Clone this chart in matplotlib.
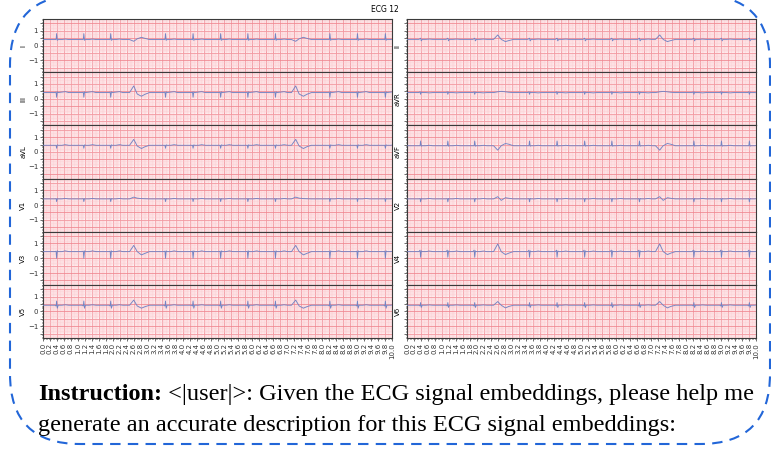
import numpy as np
import matplotlib
matplotlib.use("Agg")
import matplotlib.pyplot as plt
from matplotlib.patches import FancyBboxPatch
from matplotlib.ticker import MultipleLocator, FuncFormatter

# ---------------- data ----------------
title = "ECG 12"
leads_left = ["I", "III", "aVL", "V1", "V3", "V5"]
leads_right = ["II", "aVR", "aVF", "V2", "V4", "V6"]

# beat times (s)
normal_beats = [0.39, 1.17, 1.94, 3.51, 4.30, 5.09, 5.87, 6.66, 8.22, 9.01, 9.81]
pvc_beats = [2.60, 7.24]

# time offsets of the waveform vertices around each beat (s)
normal_offsets = [-0.05, -0.015, 0.0, 0.02, 0.045, 0.15, 0.25, 0.35]
pvc_offsets = [-0.12, 0.0, 0.10, 0.22, 0.32, 0.45]

# baseline level per lead (mV)
baseline = {"I": 0.41, "III": 0.42, "aVL": 0.45, "V1": 0.42, "V3": 0.45, "V5": 0.42,
            "II": 0.42, "aVR": 0.42, "aVF": 0.42, "V2": 0.42, "V4": 0.45, "V6": 0.42}

# normal-beat deflections relative to baseline (mV)
normal_vals = {
    "I":   [0, 0.00, 0.40, -0.05, 0, 0, 0.03, 0],
    "III": [0, 0.03, -0.32, 0.05, 0, 0.03, 0.06, 0],
    "aVL": [0, 0.00, -0.20, 0.03, 0, 0, 0.04, 0],
    "V1":  [0, 0.02, -0.18, 0.02, 0, 0, 0.03, 0],
    "V3":  [0, 0.03, -0.45, 0.05, 0, 0, 0.05, 0],
    "V5":  [0, -0.05, 0.28, -0.20, 0, 0, 0.03, 0],
    "II":  [0, 0.05, 0.08, -0.10, 0, 0, 0.02, 0],
    "aVR": [0, 0.05, -0.12, 0.03, 0, 0, -0.02, 0],
    "aVF": [0, 0.00, 0.32, -0.03, 0, 0, 0.03, 0],
    "V2":  [0, 0.02, -0.20, 0.03, 0, 0, 0.03, 0],
    "V4":  [0, 0.10, -0.38, 0.05, 0, 0, 0.04, 0],
    "V6":  [0, -0.05, 0.18, -0.15, 0, 0, 0.02, 0],
}
# premature (wide) beat deflections relative to baseline (mV)
pvc_vals = {
    "I":   [0, -0.12, 0.05, 0.15, 0.08, 0],
    "III": [0, 0.45, -0.10, -0.25, -0.12, 0],
    "aVL": [0, 0.40, -0.05, -0.22, -0.10, 0],
    "V1":  [0, 0.12, 0.05, 0.02, 0.01, 0],
    "V3":  [0, 0.42, 0.00, -0.22, -0.12, 0],
    "V5":  [0, 0.35, -0.05, -0.20, -0.10, 0],
    "II":  [0, 0.30, 0.00, -0.15, -0.08, 0],
    "aVR": [0, 0.05, 0.08, 0.05, 0.02, 0],
    "aVF": [0, -0.30, 0.00, 0.15, 0.10, 0],
    "V2":  [0, 0.15, -0.10, 0.08, 0.04, 0],
    "V4":  [0, 0.52, 0.00, -0.20, -0.10, 0],
    "V6":  [0, 0.25, 0.00, -0.18, -0.08, 0],
}

instr_bold = "Instruction:"
instr_line1 = " <|user|>: Given the ECG signal embeddings, please help me"
instr_line2 = "generate an accurate description for this ECG signal embeddings:"


def lead_trace(lead):
    b = baseline[lead]
    pts = [(0.0, b), (10.2, b)]
    for t in normal_beats:
        for o, v in zip(normal_offsets, normal_vals[lead]):
            pts.append((t + o, b + v))
    for t in pvc_beats:
        for o, v in zip(pvc_offsets, pvc_vals[lead]):
            pts.append((t + o, b + v))
    pts.sort()
    return [p[0] for p in pts], [p[1] for p in pts]


W, H = 771, 449
fig = plt.figure(figsize=(W / 100, H / 100), dpi=100)

# overlay in pixel coordinates for the dashed frame and the instruction text
ov = fig.add_axes([0, 0, 1, 1], zorder=0)
ov.set_xlim(0, W)
ov.set_ylim(H, 0)
ov.axis("off")
box = FancyBboxPatch((10, -5), 760, 449, boxstyle="round,pad=0,rounding_size=70",
                     fill=False, edgecolor="#2266d8", linewidth=1.5,
                     linestyle=(0, (5, 3.5)))
ov.add_patch(box)

# ECG axes
x_left = [43, 407]
ax_w = 349
top = 19
row_h = 53.17

major_c = "#f08a93"
minor_c = "#fcc8cd"
trace_c = "#7384c4"

for col, leads in enumerate([leads_left, leads_right]):
    for r, lead in enumerate(leads):
        y0 = top + row_h * (r + 1)
        ax = fig.add_axes([x_left[col] / W, 1 - y0 / H, ax_w / W, row_h / H], zorder=1)
        ax.set_facecolor("#fff4f5")
        xs, ys = lead_trace(lead)
        ax.plot(xs, ys, color=trace_c, linewidth=0.65, zorder=3)
        ax.set_xlim(0, 10)
        ax.set_ylim(-1.8, 1.8)
        ax.xaxis.set_major_locator(MultipleLocator(0.2))
        ax.xaxis.set_minor_locator(MultipleLocator(0.04))
        ax.yaxis.set_major_locator(MultipleLocator(0.5))
        ax.yaxis.set_minor_locator(MultipleLocator(0.1))
        ax.yaxis.set_major_formatter(FuncFormatter(
            lambda v, p: ("%d" % round(v)).replace("-", "\u2212") if abs(v - round(v)) < 1e-6 else ""))
        ax.grid(which="minor", color=minor_c, linewidth=0.35, zorder=0)
        ax.grid(which="major", color=major_c, linewidth=0.6, zorder=1)
        ax.set_axisbelow(True)
        ax.tick_params(which="both", labelsize=5, width=0.5, pad=1.5, colors="#333333")
        ax.tick_params(which="major", length=2)
        ax.tick_params(which="minor", length=1)
        for s in ax.spines.values():
            s.set_color("#3a3a3a")
            s.set_linewidth(0.8)
        if r == len(leads) - 1:
            ax.xaxis.set_major_formatter(FuncFormatter(lambda v, p: "%.1f" % v))
            plt.setp(ax.get_xticklabels(), rotation=90)
        else:
            ax.tick_params(axis="x", labelbottom=False)
        if col == 1:
            ax.tick_params(axis="y", labelleft=False)
            ax.set_ylabel(lead, fontsize=5, labelpad=2)
        else:
            ax.set_ylabel(lead, fontsize=5, labelpad=1)

fig.text(385 / W, 1 - 10 / H, title, fontsize=5.5, ha="center", va="center")

# instruction text
fs = 17.5
t1 = ov.text(38, 400, instr_bold, fontsize=fs, fontweight="bold",
             family="Liberation Serif", va="baseline", ha="left")
fig.canvas.draw()
bb = t1.get_window_extent()
ov.text(38 + bb.width, 400, instr_line1, fontsize=fs, family="Liberation Serif",
        va="baseline", ha="left")
ov.text(38, 431, instr_line2, fontsize=fs, family="Liberation Serif",
        va="baseline", ha="left")

fig.savefig("out.png", dpi=100)
